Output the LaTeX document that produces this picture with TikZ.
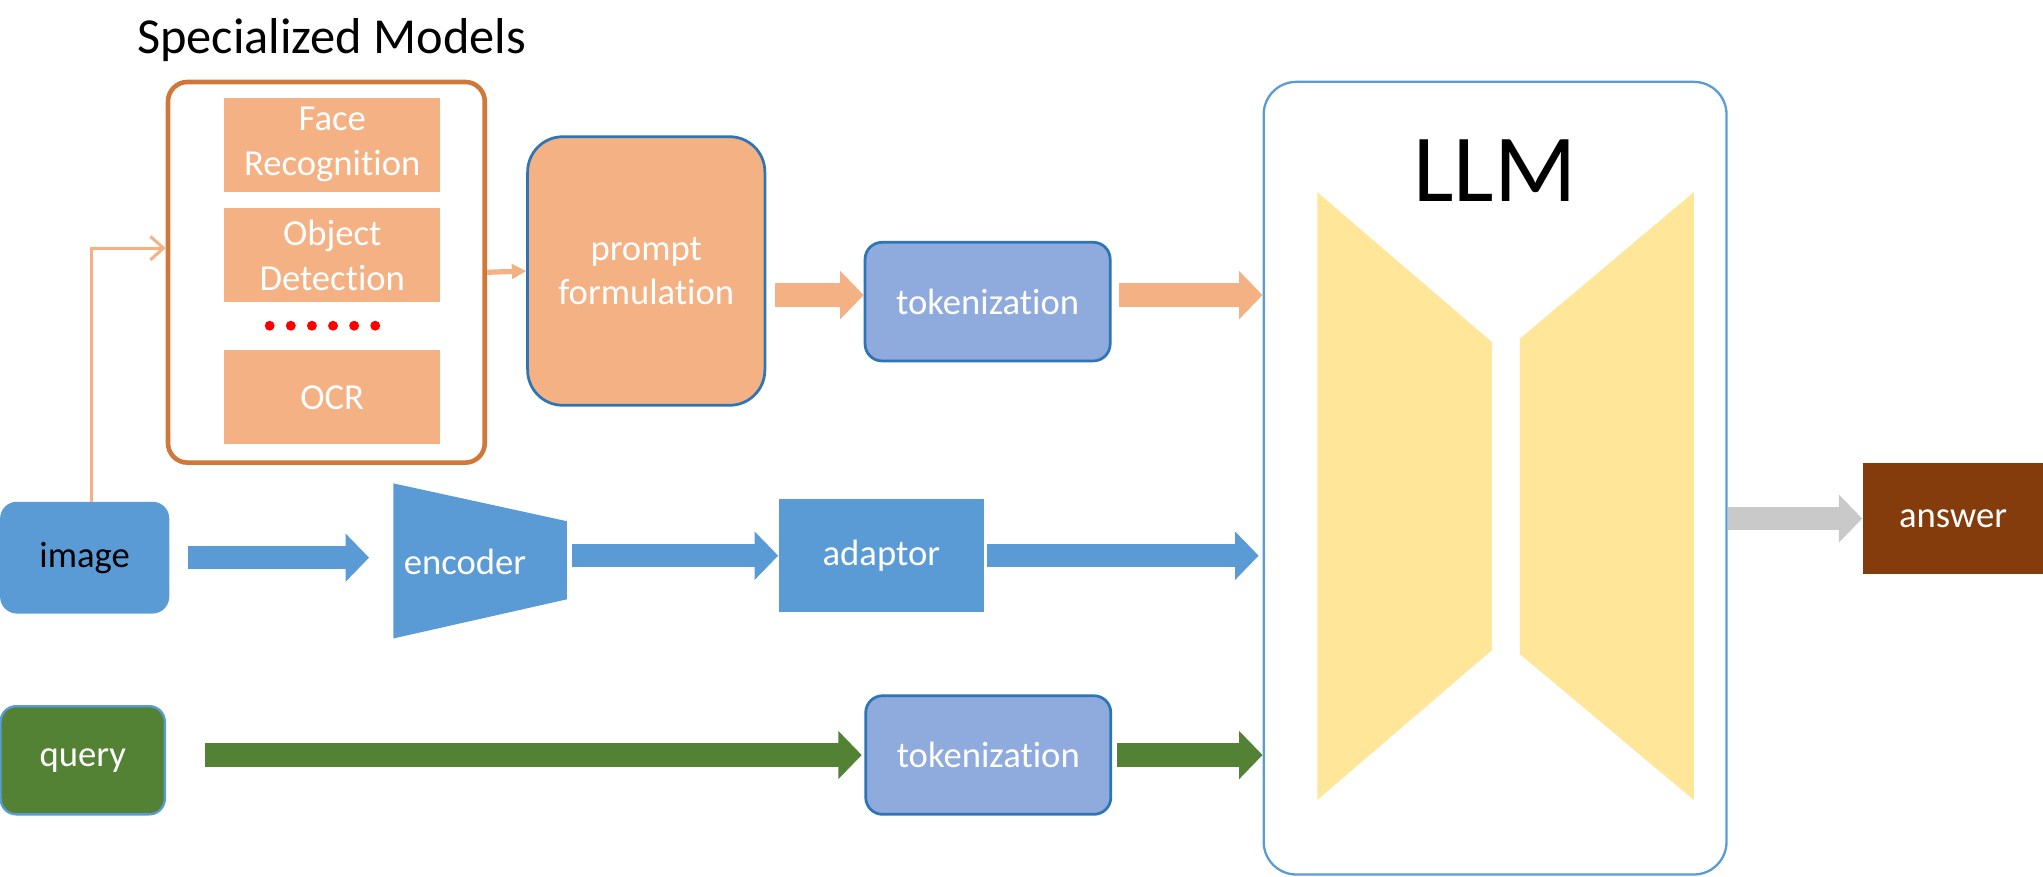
\documentclass[tikz,border=0pt]{standalone}
\usepackage{fontspec}
\setmainfont{Carlito}[Ligatures=NoCommon]
\usetikzlibrary{arrows.meta}
\definecolor{peach}{HTML}{F4B183}
\definecolor{rust}{HTML}{D0773A}
\definecolor{mblue}{HTML}{5B9BD5}
\definecolor{dblue}{HTML}{2E75B6}
\definecolor{tblue}{HTML}{8FAADC}
\definecolor{leaf}{HTML}{548235}
\definecolor{brown}{HTML}{843C0C}
\definecolor{sand}{HTML}{FFE699}
\definecolor{ash}{HTML}{C9C9C9}

\begin{document}
\begin{tikzpicture}[
    x=0.01cm, y=-0.01cm,
    box/.style={inner sep=0pt, align=center, font=\fontsize{8}{9.8}\selectfont, text=white},
    model/.style={box, fill=peach, minimum width=1.66cm, minimum height=0.72cm},
    tokbox/.style={box, fill=tblue, draw=dblue, line width=0.6pt, rounded corners=0.13cm, minimum width=1.88cm, minimum height=0.91cm},
    flow/.style={line width=0.18cm, -{Triangle[length=0.18cm,width=0.36cm]}}
]
    \useasboundingbox (0,0) rectangle (1568,673);

    % specialized models
    \node[anchor=base, font=\fontsize{11}{13}\selectfont] (title) at (254.5,41) {Specialized Models};
    \node[draw=rust, line width=1pt, rounded corners=0.15cm, minimum width=2.43cm, minimum height=2.92cm] (spec) at (250.5,209) {};
    \node[model] (face) at (255,111) {Face\\Recognition};
    \node[model] (obj) at (255,196) {Object\\Detection};
    \node[model] (ocr) at (255,305) {OCR};
    \foreach \i in {0,...,5}
        \fill[red] (207+16.2*\i,250) circle (0.038cm);

    % top row
    \node[box, fill=peach, draw=dblue, line width=0.6pt, rounded corners=0.27cm, minimum width=1.82cm, minimum height=2.06cm] (prompt) at (496,208) {prompt\\formulation};
    \node[tokbox] (tok1) at (758,231.5) {tokenization};

    % llm block
    \node[draw=mblue, line width=0.5pt, fill=white, rounded corners=0.25cm, minimum width=3.55cm, minimum height=6.08cm] (llm) at (1147.5,367) {};
    \fill[sand] (1011,147.5) -- (1145,262.5) -- (1145,499) -- (1011,614) -- cycle;
    \fill[sand] (1166.5,260) -- (1300,147.5) -- (1300,614) -- (1166.5,502) -- cycle;
    \node[anchor=base, font=\fontsize{21}{25}\selectfont] at (1147.5,155) {LLM};
    \node[box, fill=brown, minimum width=1.38cm, minimum height=0.85cm] (ans) at (1499,398) {answer};

    % middle row
    \node[box, text=black, fill=mblue, draw=mblue, line width=0.5pt, rounded corners=0.12cm, minimum width=1.28cm, minimum height=0.84cm] (img) at (65,428) {image};
    \fill[mblue] (302,371) -- (435,400) -- (435,460) -- (302,490) -- cycle;
    \node[box, align=left, text width=1.17cm, minimum width=1.33cm, minimum height=1.19cm] (enc) at (368.5,431) {encoder};
    \node[box, fill=mblue, minimum width=1.57cm, minimum height=0.87cm] (adp) at (676.5,426.5) {adaptor};

    % bottom row
    \node[box, fill=leaf, draw=mblue, line width=0.5pt, rounded corners=0.12cm, minimum width=1.26cm, minimum height=0.83cm] (qry) at (63.5,583.5) {query};
    \node[tokbox] (tok2) at (758.5,579.5) {tokenization};

    % connectors
    \draw[peach, line width=0.65pt, -{Straight Barb[length=0.1cm,width=0.18cm]}] ([xshift=0.05cm]img.north) |- ([yshift=0.185cm]spec.west);
    \draw[peach, line width=0.04cm, -{Triangle[length=0.11cm,width=0.11cm]}] (spec.east) -- (prompt.west);
    \draw[flow, peach, shorten <=0.07cm] ([yshift=0.05cm]prompt.east |- tok1.west) -- ([yshift=0.05cm]tok1.west);
    \draw[flow, peach, shorten <=0.06cm] ([yshift=0.05cm]tok1.east) -- ([yshift=0.05cm]llm.west |- tok1.west);
    \draw[flow, mblue, shorten <=0.14cm, shorten >=0.18cm] (img.east) -- (enc.west |- img.east);
    \draw[flow, mblue, shorten <=0.03cm] (enc.east |- adp.west) -- (adp.west);
    \draw[flow, mblue, shorten <=0.02cm, shorten >=0.03cm] (adp.east) -- (llm.west |- adp.east);
    \draw[flow, leaf, shorten <=0.30cm, shorten >=0.02cm] (qry.east |- tok2.west) -- (tok2.west);
    \draw[flow, leaf, shorten <=0.04cm] (tok2.east) -- (llm.west |- tok2.east);
    \draw[flow, ash] (llm.east |- ans.west) -- (ans.west);
\end{tikzpicture}
\end{document}
